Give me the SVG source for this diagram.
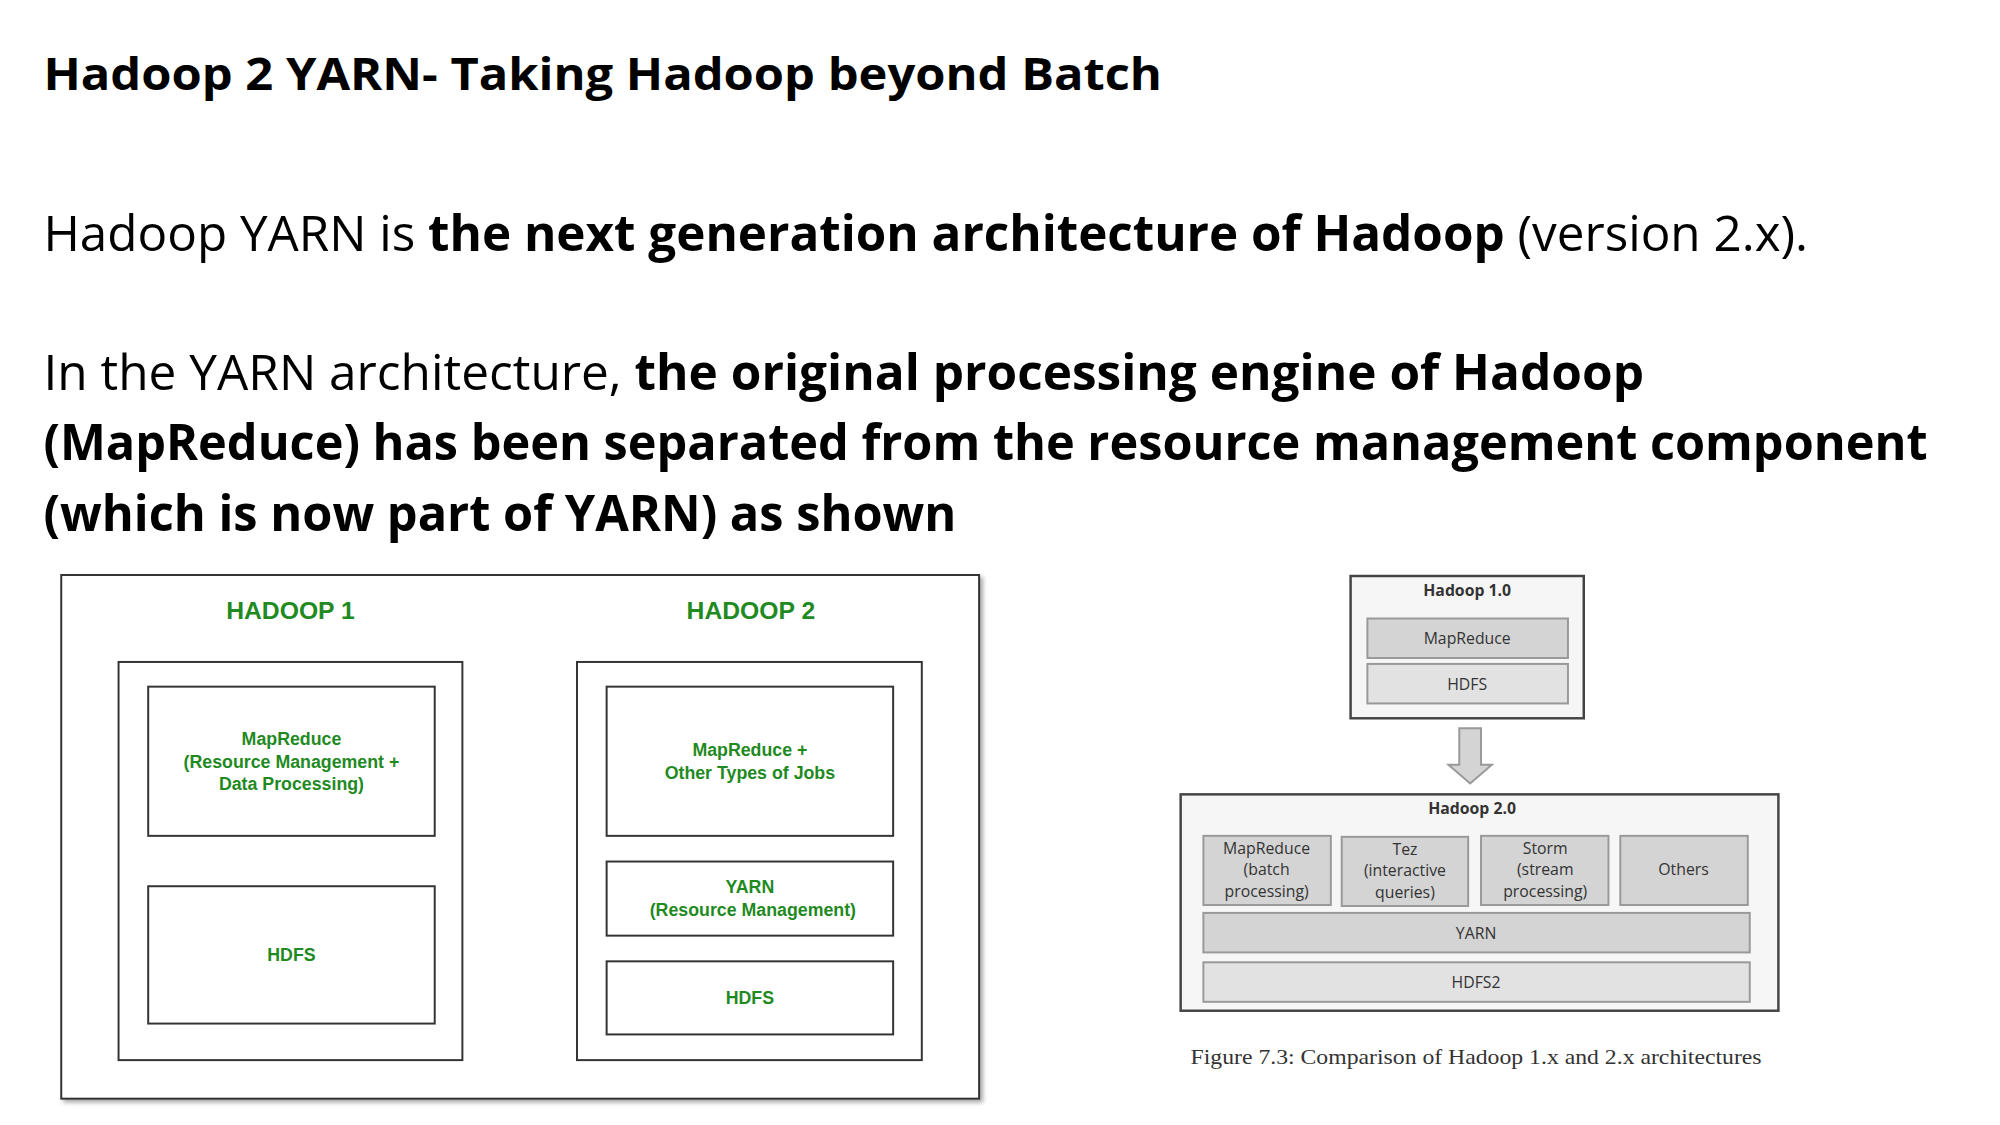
<svg xmlns="http://www.w3.org/2000/svg" width="2000" height="1125" viewBox="0 0 2000 1125">
<style>
.h{font-family:"Open Sans","Liberation Sans",sans-serif;fill:#000}
.b{font-weight:bold}
.g{font-family:"Liberation Sans",Arial,sans-serif;font-weight:bold;fill:#1f8a1f;text-anchor:middle}
.wb{fill:#fff;stroke:#333;stroke-width:2}
.gb{fill:#d4d4d4;stroke:#999;stroke-width:2}
.lb{fill:#e2e2e2;stroke:#999;stroke-width:2}
.t{font-family:"Open Sans","Liberation Sans",sans-serif;fill:#333;text-anchor:middle;font-size:16px}
</style>
<rect width="2000" height="1125" fill="#fff"/>
<g transform="scale(0.988)">
<g id="text">
<text class="h b" x="44" y="91" font-size="46" textLength="1132" lengthAdjust="spacingAndGlyphs">Hadoop 2 YARN- Taking Hadoop beyond Batch</text>
<text class="h" x="44" y="254" font-size="50" textLength="1786" lengthAdjust="spacingAndGlyphs">Hadoop YARN is <tspan class="b">the next generation architecture of Hadoop</tspan> (version 2.x).</text>
<text class="h" x="44" y="395" font-size="50" textLength="1620" lengthAdjust="spacingAndGlyphs">In the YARN architecture, <tspan class="b">the original processing engine of Hadoop</tspan></text>
<text class="h b" x="44" y="466" font-size="50" textLength="1907" lengthAdjust="spacingAndGlyphs">(MapReduce) has been separated from the resource management component</text>
<text class="h b" x="44" y="537" font-size="50" textLength="924" lengthAdjust="spacingAndGlyphs">(which is now part of YARN) as shown</text>
</g>
<g id="left">
<rect class="wb" x="62" y="582" width="929" height="530" style="filter:drop-shadow(3px 3px 2px #aaa)"/>
<text class="g" x="294" y="627" font-size="25">HADOOP 1</text>
<text class="g" x="760" y="627" font-size="25">HADOOP 2</text>
<rect class="wb" x="120" y="670" width="348" height="403"/>
<rect class="wb" x="150" y="695" width="290" height="151"/>
<text class="g" font-size="18"><tspan x="295" y="754">MapReduce</tspan><tspan x="295" y="777">(Resource Management +</tspan><tspan x="295" y="800">Data Processing)</tspan></text>
<rect class="wb" x="150" y="897" width="290" height="139"/>
<text class="g" x="295" y="973" font-size="18">HDFS</text>
<rect class="wb" x="584" y="670" width="349" height="403"/>
<rect class="wb" x="614" y="695" width="290" height="151"/>
<text class="g" font-size="18"><tspan x="759" y="765">MapReduce +</tspan><tspan x="759" y="788">Other Types of Jobs</tspan></text>
<rect class="wb" x="614" y="872" width="290" height="75"/>
<text class="g" font-size="18"><tspan x="759" y="904">YARN</tspan><tspan x="762" y="927">(Resource Management)</tspan></text>
<rect class="wb" x="614" y="973" width="290" height="74"/>
<text class="g" x="759" y="1016" font-size="18">HDFS</text>
</g>
<g id="h1">
<rect x="1367" y="583" width="236" height="144" fill="#f6f6f6" stroke="#444" stroke-width="2.5"/>
<text class="t" x="1485" y="603" font-weight="bold">Hadoop 1.0</text>
<rect class="gb" x="1384" y="626" width="203" height="40"/>
<text class="t" x="1485" y="652">MapReduce</text>
<rect class="lb" x="1384" y="672" width="203" height="40"/>
<text class="t" x="1485" y="698">HDFS</text>
</g>
<g id="connectors">
<polygon points="1477,737 1499,737 1499,774 1510,774 1488,793 1466,774 1477,774" fill="#d4d4d4" stroke="#999" stroke-width="2"/>
</g>
<g id="h2">
<rect x="1195" y="804" width="605" height="219" fill="#f6f6f6" stroke="#444" stroke-width="2.5"/>
<text class="t" x="1490" y="824" font-weight="bold">Hadoop 2.0</text>
<rect class="gb" x="1218" y="846" width="129" height="70"/>
<text class="t"><tspan x="1282" y="864">MapReduce</tspan><tspan x="1282" y="886">(batch</tspan><tspan x="1282" y="908">processing)</tspan></text>
<rect class="gb" x="1358" y="847" width="128" height="70"/>
<text class="t"><tspan x="1422" y="865">Tez</tspan><tspan x="1422" y="887">(interactive</tspan><tspan x="1422" y="909">queries)</tspan></text>
<rect class="gb" x="1499" y="846" width="129" height="70"/>
<text class="t"><tspan x="1564" y="864">Storm</tspan><tspan x="1564" y="886">(stream</tspan><tspan x="1564" y="908">processing)</tspan></text>
<rect class="gb" x="1640" y="846" width="129" height="70"/>
<text class="t" x="1704" y="886">Others</text>
<rect class="gb" x="1218" y="924" width="553" height="40"/>
<text class="t" x="1494" y="950">YARN</text>
<rect class="lb" x="1218" y="974" width="553" height="40"/>
<text class="t" x="1494" y="1000">HDFS2</text>
</g>
<text x="1205" y="1077" font-family="Liberation Serif,serif" font-size="22" fill="#333" textLength="578" lengthAdjust="spacingAndGlyphs">Figure 7.3: Comparison of Hadoop 1.x and 2.x architectures</text>
</g>
</svg>
